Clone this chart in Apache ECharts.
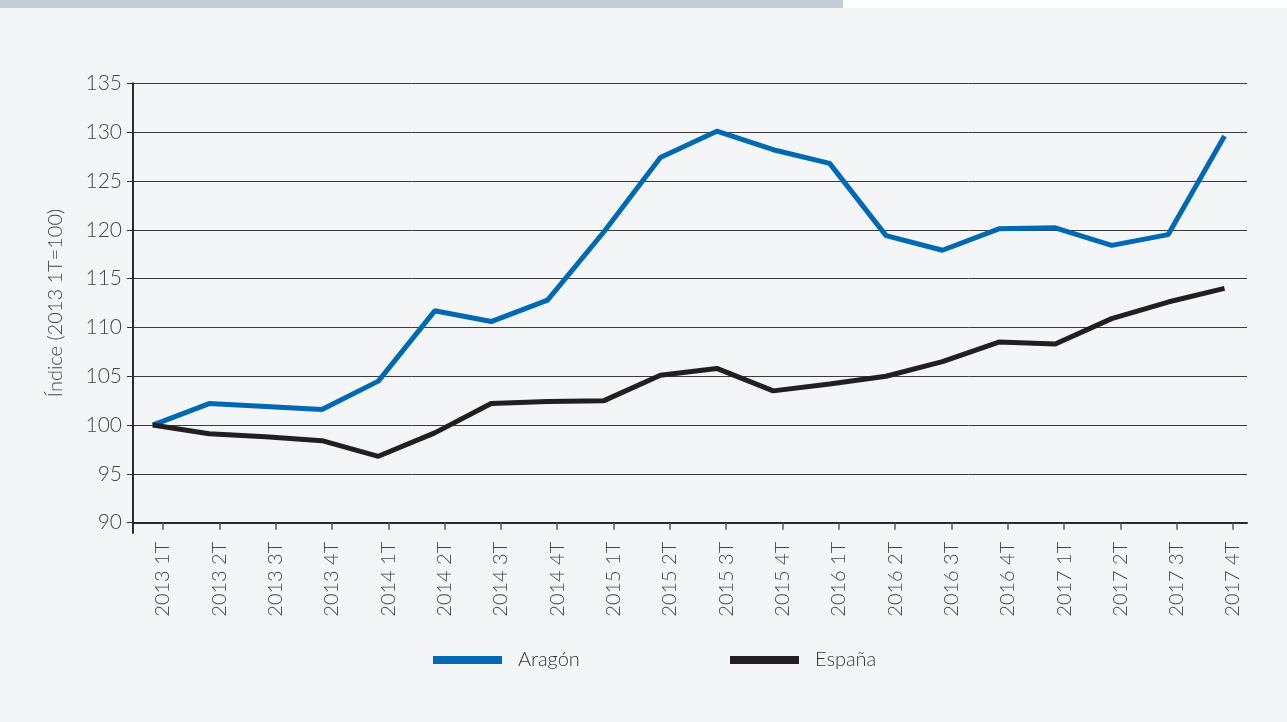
<!DOCTYPE html>
<html>
<head>
<meta charset="utf-8">
<title>Índice Aragón / España</title>
<script src="https://cdn.jsdelivr.net/npm/echarts@6/dist/echarts.min.js"></script>
<style>
  html, body { margin: 0; padding: 0; background: #f4f5f7; }
  #strip { position: absolute; left: 0; top: 0; width: 1287px; height: 8px; background: #ffffff; }
  #bar { position: absolute; left: 0; top: 0; width: 843px; height: 8px; background: #c5cdd4; }
  #chart { position: absolute; left: 0; top: 0; width: 1287px; height: 722px; }
</style>
</head>
<body>
<div id="strip"></div>
<div id="bar"></div>
<div id="chart"></div>
<script>
// Quarterly index, base 2013 1T = 100
const categories = [
  '2013 1T', '2013 2T', '2013 3T', '2013 4T',
  '2014 1T', '2014 2T', '2014 3T', '2014 4T',
  '2015 1T', '2015 2T', '2015 3T', '2015 4T',
  '2016 1T', '2016 2T', '2016 3T', '2016 4T',
  '2017 1T', '2017 2T', '2017 3T', '2017 4T'
];
const aragon = [100, 102.2, 101.9, 101.6, 104.5, 111.7, 110.6, 112.8, 119.8, 127.4,
                130.1, 128.2, 126.8, 119.4, 117.9, 120.1, 120.2, 118.4, 119.5, 129.6];
const espana = [100, 99.1, 98.8, 98.4, 96.8, 99.2, 102.2, 102.4, 102.5, 105.1,
                105.8, 103.5, 104.2, 105.0, 106.5, 108.5, 108.3, 110.9, 112.6, 114.0];
const yTicks = { min: 90, max: 135, step: 5 };
const seriesNames = ['Aragón', 'España'];

const FONT = 'Lato, "Open Sans", sans-serif';
const TEXT = '#444444';
const DARK = '#2b2b2b';
const BLUE = '#0069b4';
const BLACK = '#231f20';

const chart = echarts.init(document.getElementById('chart'), null, { renderer: 'canvas' });

const plotTop = 83.3, plotBottom = 199.3;

function legendFor(name, left) {
  return {
    data: [name], left: left, top: 650, padding: 0,
    icon: 'rect', itemWidth: 69, itemHeight: 8,
    textStyle: { color: '#333', fontSize: 20, fontFamily: FONT, fontWeight: 300, padding: [0, 0, 0, 11] }
  };
}

chart.setOption({
  backgroundColor: 'transparent',
  animation: false,
  textStyle: { fontFamily: FONT },
  grid: [
    // frame: gridlines, value axis and baseline
    { left: 133, right: 40, top: plotTop, bottom: plotBottom },
    // quarter labels and tick marks
    { left: 134.85, right: 25.85, top: plotTop, bottom: plotBottom },
    // series
    { left: 152.7, right: 62.5, top: plotTop, bottom: plotBottom },
    // vertical axis line running past the baseline
    { left: 133, right: 40, top: plotTop, bottom: 189 }
  ],
  xAxis: [
    {
      gridIndex: 0, type: 'category', data: categories, boundaryGap: false,
      axisLine: { show: true, lineStyle: { color: DARK, width: 2 } },
      axisTick: { show: false }, axisLabel: { show: false }, splitLine: { show: false }
    },
    {
      gridIndex: 1, type: 'category', data: categories, boundaryGap: true,
      axisLine: { show: false },
      axisTick: { show: true, alignWithLabel: true, length: 7, lineStyle: { color: '#555', width: 1.5 } },
      axisLabel: {
        show: true, rotate: 90, margin: 19, interval: 0,
        color: TEXT, fontSize: 20, fontFamily: FONT, fontWeight: 300
      },
      splitLine: { show: false }
    },
    { gridIndex: 2, type: 'category', data: categories, boundaryGap: false, show: false },
    { gridIndex: 3, type: 'category', data: categories, show: false }
  ],
  yAxis: [
    {
      gridIndex: 0, type: 'value', min: yTicks.min, max: yTicks.max, interval: yTicks.step,
      name: 'Índice (2013 1T=100)', nameLocation: 'middle', nameGap: 67, nameRotate: 90,
      nameTextStyle: { color: TEXT, fontSize: 20, fontFamily: FONT, fontWeight: 300 },
      axisLine: { show: false },
      axisTick: { show: true, length: 6, lineStyle: { color: DARK, width: 1 } },
      axisLabel: { color: TEXT, fontSize: 21, fontFamily: FONT, fontWeight: 300, margin: 11 },
      splitLine: { show: true, lineStyle: { color: '#3a3a3a', width: 1 } }
    },
    { gridIndex: 1, type: 'value', min: yTicks.min, max: yTicks.max, show: false },
    { gridIndex: 2, type: 'value', min: yTicks.min, max: yTicks.max, show: false },
    {
      gridIndex: 3, type: 'value', min: 0, max: 1,
      axisLine: { show: true, lineStyle: { color: DARK, width: 2 } },
      axisTick: { show: false }, axisLabel: { show: false }, splitLine: { show: false }
    }
  ],
  legend: [legendFor(seriesNames[0], 433), legendFor(seriesNames[1], 730)],
  series: [
    {
      name: seriesNames[0], type: 'line', xAxisIndex: 2, yAxisIndex: 2,
      data: aragon, showSymbol: false, symbol: 'none',
      lineStyle: { color: BLUE, width: 5 }, itemStyle: { color: BLUE }
    },
    {
      name: seriesNames[1], type: 'line', xAxisIndex: 2, yAxisIndex: 2,
      data: espana, showSymbol: false, symbol: 'none',
      lineStyle: { color: BLACK, width: 5 }, itemStyle: { color: BLACK }
    }
  ]
});
</script>
</body>
</html>
